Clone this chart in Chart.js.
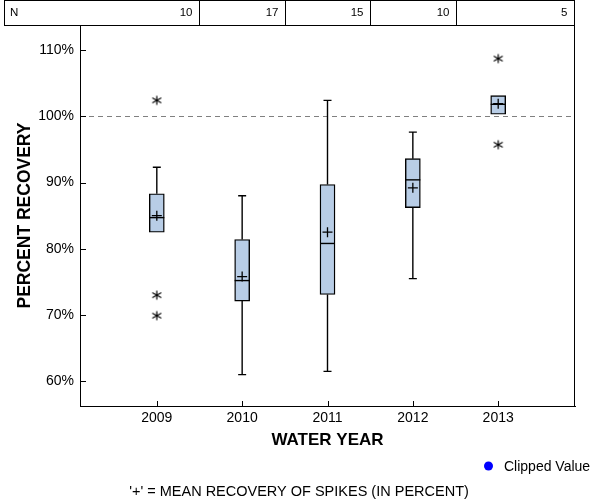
<!DOCTYPE html>
<html>
<head>
<meta charset="utf-8">
<script src="https://cdn.jsdelivr.net/npm/chart.js@4/dist/chart.umd.min.js"></script>
<style>
  html, body { margin: 0; padding: 0; background: #fff; }
  #wrap { width: 600px; height: 500px; }
</style>
</head>
<body>
<div id="wrap"><canvas id="c" width="600" height="500"></canvas></div>
<script>
// ---- data ----
const years       = [2009, 2010, 2011, 2012, 2013];
const nCounts     = [10, 17, 15, 10, 5];
const whiskerLow  = [82.5, 61.0, 61.5, 75.5, 100.3];
const q1          = [82.5, 72.1, 73.1, 86.2, 100.3];
const medians     = [84.7, 75.2, 80.8, 90.4, 101.8];
const q3          = [88.3, 81.4, 89.7, 93.6, 103.1];
const whiskerHigh = [92.3, 88.0, 102.4, 97.6, 103.1];
const means       = [85.0, 75.8, 82.5, 89.2, 101.9];
const outlierYears  = [2009, 2009, 2009, 2013, 2013];
const outlierValues = [102.4, 73.0, 69.9, 108.7, 95.7];
const yTicks      = [60, 70, 80, 90, 100, 110];
const refLine     = 100;

const FONT = '"Liberation Sans", Arial, sans-serif';

// asterisk marker
function makeAsterisk() {
  const c = document.createElement('canvas');
  c.width = 12; c.height = 12;
  const g = c.getContext('2d');
  g.strokeStyle = '#000'; g.lineWidth = 1.2;
  g.beginPath();
  g.moveTo(6, 1.5); g.lineTo(6, 10.5);
  g.moveTo(1.5, 3.5); g.lineTo(10.5, 8.5);
  g.moveTo(1.5, 8.5); g.lineTo(10.5, 3.5);
  g.stroke();
  return c;
}
const asterisk = makeAsterisk();

const boxPlugin = {
  id: 'boxdeco',
  beforeDatasetsDraw(chart) {
    const { ctx, chartArea, scales: { x, y } } = chart;
    ctx.save();
    ctx.strokeStyle = '#808080';
    ctx.lineWidth = 1;
    ctx.setLineDash([5, 4]);
    const ry = Math.round(y.getPixelForValue(refLine)) + 0.5;
    ctx.beginPath();
    ctx.moveTo(chartArea.left, ry); ctx.lineTo(chartArea.right, ry);
    ctx.stroke();
    ctx.restore();
    ctx.save();
    ctx.strokeStyle = '#000';
    ctx.lineWidth = 1.4;
    years.forEach((yr, i) => {
      const px = x.getPixelForValue(yr);
      const capHalf = 4;
      if (whiskerHigh[i] > q3[i]) {
        const a = y.getPixelForValue(q3[i]), b = y.getPixelForValue(whiskerHigh[i]);
        ctx.beginPath();
        ctx.moveTo(px, a); ctx.lineTo(px, b);
        ctx.moveTo(px - capHalf, b); ctx.lineTo(px + capHalf, b);
        ctx.stroke();
      }
      if (whiskerLow[i] < q1[i]) {
        const a = y.getPixelForValue(q1[i]), b = y.getPixelForValue(whiskerLow[i]);
        ctx.beginPath();
        ctx.moveTo(px, a); ctx.lineTo(px, b);
        ctx.moveTo(px - capHalf, b); ctx.lineTo(px + capHalf, b);
        ctx.stroke();
      }
    });
    ctx.restore();
  },
  afterDatasetsDraw(chart) {
    const { ctx, scales: { x, y } } = chart;
    const meta = chart.getDatasetMeta(0);
    ctx.save();
    ctx.strokeStyle = '#000';
    ctx.lineWidth = 1.4;
    years.forEach((yr, i) => {
      const el = meta.data[i];
      const half = el.width / 2;
      const px = x.getPixelForValue(yr);
      const my = y.getPixelForValue(medians[i]);
      ctx.beginPath();
      ctx.moveTo(px - half, my); ctx.lineTo(px + half, my);
      ctx.stroke();
    });
    ctx.restore();
  },
  afterDraw(chart) {
    const { ctx, chartArea: ca, scales: { x, y } } = chart;
    ctx.save();
    ctx.strokeStyle = '#000';
    ctx.lineWidth = 1;
    ctx.beginPath();
    ctx.moveTo(Math.round(ca.right) - 0.5, ca.top);
    ctx.lineTo(Math.round(ca.right) - 0.5, ca.bottom);
    ctx.stroke();
    ctx.beginPath();
    yTicks.forEach(v => {
      const py = Math.round(y.getPixelForValue(v)) + 0.5;
      ctx.moveTo(ca.left, py); ctx.lineTo(ca.left + 6, py);
    });
    years.forEach(v => {
      const px = Math.round(x.getPixelForValue(v)) + 0.5;
      ctx.moveTo(px, ca.bottom); ctx.lineTo(px, ca.bottom - 5);
    });
    ctx.stroke();

    // N table
    const tTop = 0.5, tBot = Math.round(ca.top) + 0.5, tLeft = 4.5, tRight = Math.round(ca.right) - 0.5;
    ctx.strokeRect(tLeft, tTop, tRight - tLeft, tBot - tTop);
    ctx.font = '11.5px ' + FONT;
    ctx.fillStyle = '#000';
    ctx.textBaseline = 'middle';
    ctx.textAlign = 'left';
    ctx.fillText('N', 10, 13);
    ctx.textAlign = 'right';
    years.forEach((yr, i) => {
      let r;
      if (i < years.length - 1) {
        r = Math.round(x.getPixelForValue(yr + 0.5)) + 0.5;
        ctx.beginPath();
        ctx.moveTo(r, tTop); ctx.lineTo(r, tBot);
        ctx.stroke();
      } else {
        r = tRight;
      }
      ctx.fillText(String(nCounts[i]), r - 7, 13);
    });

    // axis titles
    ctx.font = 'bold 17px ' + FONT;
    ctx.textAlign = 'center';
    ctx.textBaseline = 'middle';
    ctx.fillText('WATER YEAR', (ca.left + ca.right) / 2, 440);
    ctx.save();
    ctx.translate(25, (ca.top + ca.bottom) / 2);
    ctx.rotate(-Math.PI / 2);
    ctx.font = 'bold 17.5px ' + FONT;
    ctx.fillText('PERCENT RECOVERY', 0, 0);
    ctx.restore();

    // legend
    ctx.fillStyle = '#0000ff';
    ctx.beginPath();
    ctx.arc(488.5, 466, 4.5, 0, Math.PI * 2);
    ctx.fill();
    ctx.fillStyle = '#000';
    ctx.font = '14px ' + FONT;
    ctx.textAlign = 'left';
    ctx.fillText('Clipped Value', 504, 467);

    // footer
    ctx.font = '14.5px ' + FONT;
    ctx.textAlign = 'center';
    ctx.fillText("'+' = MEAN RECOVERY OF SPIKES (IN PERCENT)", 299, 492);
    ctx.restore();
  }
};

new Chart(document.getElementById('c'), {
  type: 'bar',
  data: {
    datasets: [
      {
        type: 'bar',
        label: 'IQR',
        data: years.map((yr, i) => ({ x: yr, y: [q1[i], q3[i]] })),
        backgroundColor: '#b8cde6',
        borderColor: '#000',
        borderWidth: 1.4,
        borderSkipped: false,
        barThickness: 15,
        order: 3
      },
      {
        type: 'scatter',
        label: 'Mean',
        data: years.map((yr, i) => ({ x: yr, y: means[i] })),
        pointStyle: 'cross',
        radius: 5,
        borderColor: '#000',
        borderWidth: 1.3,
        order: 1
      },
      {
        type: 'scatter',
        label: 'Outliers',
        data: outlierYears.map((yr, i) => ({ x: yr, y: outlierValues[i] })),
        pointStyle: asterisk,
        radius: 6,
        order: 2
      }
    ]
  },
  options: {
    responsive: false,
    animation: false,
    devicePixelRatio: 1,
    layout: { padding: { top: 25, right: 25, left: 0, bottom: 0 } },
    plugins: { legend: { display: false }, tooltip: { enabled: false } },
    scales: {
      x: {
        type: 'linear',
        offset: false,
        min: 2008.1,
        max: 2013.9,
        grid: { display: false, drawTicks: false, offset: false },
        border: { display: true, color: '#000', width: 1 },
        afterBuildTicks: s => { s.ticks = years.map(v => ({ value: v })); },
        afterFit: s => { s.height = 94; },
        ticks: {
          callback: v => String(v),
          color: '#000',
          padding: 4,
          maxRotation: 0,
          autoSkip: false,
          font: { family: FONT, size: 14 }
        }
      },
      y: {
        type: 'linear',
        min: 56.27,
        max: 113.77,
        grid: { display: false, drawTicks: false },
        border: { display: true, color: '#000', width: 1 },
        afterBuildTicks: s => { s.ticks = yTicks.map(v => ({ value: v })); },
        afterFit: s => { s.width = 80; },
        ticks: {
          callback: v => v + '%',
          color: '#000',
          padding: 6,
          font: { family: FONT, size: 14 }
        }
      }
    }
  },
  plugins: [boxPlugin]
});
</script>
</body>
</html>
